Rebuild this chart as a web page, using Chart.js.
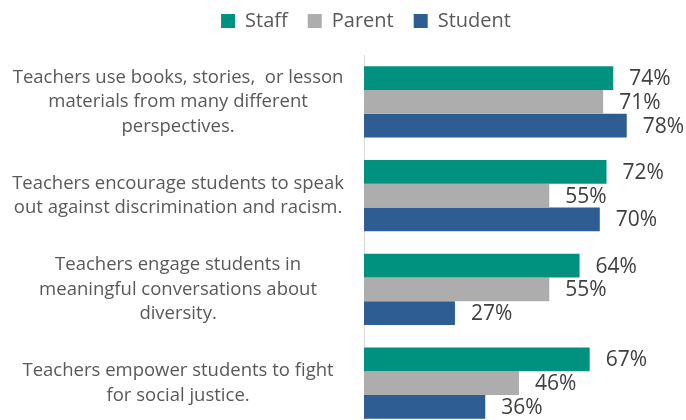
<!DOCTYPE html>
<html lang="en">
<head>
  <meta charset="UTF-8" />
  <title>Teacher practices – Staff / Parent / Student</title>
  <script src="https://cdn.jsdelivr.net/npm/chart.js"></script>
  <style>
    * { box-sizing: border-box; margin: 0; padding: 0; }
    html, body { width: 686px; height: 420px; overflow: hidden; background: #fff; }
    canvas { display: block; }
  </style>
</head>
<body>
  <canvas id="barChart" width="686" height="430"></canvas>

  <script>
    // data
    const categories = [
      ['Teachers use books, stories,  or lesson', 'materials from many different', 'perspectives.'],
      ['Teachers encourage students to speak', 'out against discrimination and racism.'],
      ['Teachers engage students in', 'meaningful conversations about', 'diversity.'],
      ['Teachers empower students to fight', 'for social justice.']
    ];
    const seriesNames = ['Staff', 'Parent', 'Student'];
    const staffValues = [74, 72, 64, 67];
    const parentValues = [71, 55, 55, 46];
    const studentValues = [78, 70, 27, 36];
    const seriesColors = ['#00927F', '#ADADAD', '#2E5D93'];

    // value labels at the end of each bar
    const valueLabels = {
      id: 'valueLabels',
      afterDatasetsDraw(chart) {
        const ctx = chart.ctx;
        ctx.save();
        ctx.font = '21px "Open Sans"';
        ctx.fillStyle = '#404040';
        ctx.textAlign = 'left';
        ctx.textBaseline = 'middle';
        chart.data.datasets.forEach((ds, i) => {
          chart.getDatasetMeta(i).data.forEach((bar, j) => {
            ctx.fillText(ds.data[j] + '%', bar.x + 16, bar.y + 1);
          });
        });
        ctx.restore();
      }
    };

    // legend height and position nudged to match the original
    const legendTweak = {
      id: 'legendTweak',
      beforeInit(chart) {
        const lg = chart.legend;
        const fit = lg.fit;
        lg.fit = function () {
          fit.call(this);
          this.height += 5;
        };
        const draw = lg.draw;
        lg.draw = function () {
          this.ctx.save();
          this.ctx.translate(24, -9);
          draw.call(this);
          this.ctx.restore();
        };
      }
    };

    const ctx = document.getElementById('barChart').getContext('2d');
    new Chart(ctx, {
      type: 'bar',
      data: {
        labels: categories,
        datasets: [
          { label: seriesNames[0], data: staffValues, backgroundColor: seriesColors[0] },
          { label: seriesNames[1], data: parentValues, backgroundColor: seriesColors[1] },
          { label: seriesNames[2], data: studentValues, backgroundColor: seriesColors[2] }
        ]
      },
      options: {
        indexAxis: 'y',
        responsive: false,
        maintainAspectRatio: false,
        animation: false,
        datasets: { bar: { categoryPercentage: 0.76, barPercentage: 1.0 } },
        layout: { padding: { top: 0, right: 2, bottom: 0, left: 0 } },
        scales: {
          x: {
            display: false,
            min: 0,
            max: 95
          },
          y: {
            grid: { display: false },
            border: { display: true, color: '#D9D9D9', width: 1 },
            ticks: {
              crossAlign: 'center',
              padding: 12,
              color: '#595959',
              font: { family: '"Open Sans"', size: 18.5, lineHeight: 1.33 }
            },
            afterFit(scale) {
              scale.width = 364;
              scale.paddingTop = 0;
              scale.paddingBottom = 0;
            }
          }
        },
        plugins: {
          legend: {
            position: 'top',
            labels: {
              boxWidth: 14,
              boxHeight: 14,
              padding: 20,
              color: '#595959',
              font: { family: '"Open Sans"', size: 20 }
            }
          },
          tooltip: { enabled: false }
        }
      },
      plugins: [valueLabels, legendTweak]
    });
  </script>
</body>
</html>
